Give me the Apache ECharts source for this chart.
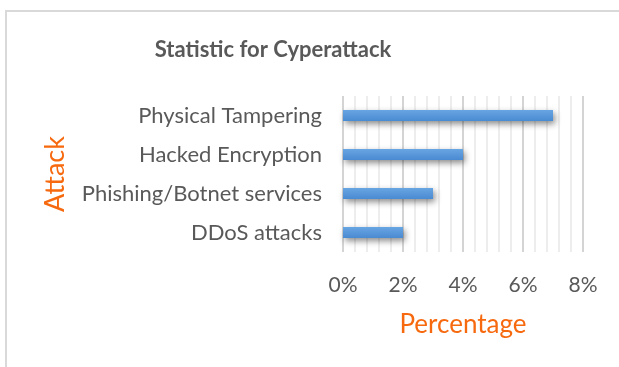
<!DOCTYPE html>
<html>
<head>
<meta charset="utf-8">
<script src="https://cdn.jsdelivr.net/npm/echarts@6/dist/echarts.min.js"></script>
<style>
html,body{margin:0;padding:0;background:#fff;}
#chart{width:619px;height:367px;}
</style>
</head>
<body>
<div id="chart"></div>
<script>
const titleText = 'Statistic for Cyperattack';
const categories = ['DDoS attacks', 'Phishing/Botnet services', 'Hacked Encryption', 'Physical Tampering'];
const values = [2, 3, 4, 7];
const xAxisTitle = 'Percentage';
const yAxisTitle = 'Attack';

const FONT = 'Lato, "Open Sans", sans-serif';
const chart = echarts.init(document.getElementById('chart'), null, {renderer: 'canvas'});
chart.setOption({
  animation: false,
  backgroundColor: '#ffffff',
  graphic: [{
    type: 'rect', silent: true, z: -10,
    shape: {x: 6, y: 11, width: 700, height: 420},
    style: {fill: 'none', stroke: '#d9d9d9', lineWidth: 2}
  }],
  title: {
    text: titleText, left: 268, top: 34, textAlign: 'center',
    textStyle: {fontFamily: FONT, fontSize: 22, fontWeight: 'bold', color: '#595959'}
  },
  grid: {left: 343, right: 36, top: 96, bottom: 115, containLabel: false},
  xAxis: {
    type: 'value', min: 0, max: 8, interval: 2,
    name: xAxisTitle, nameLocation: 'middle', nameGap: 60,
    nameTextStyle: {fontFamily: FONT, fontSize: 26, color: '#f7690f'},
    axisLine: {show: false}, axisTick: {show: false},
    axisLabel: {formatter: '{value}%', margin: 23, fontFamily: FONT, fontSize: 21, color: '#595959'},
    splitLine: {show: true, lineStyle: {color: '#d4d4d4', width: 2}},
    minorTick: {show: false, splitNumber: 5},
    minorSplitLine: {show: true, lineStyle: {color: '#ededed', width: 2}}
  },
  yAxis: {
    type: 'category', data: categories,
    name: yAxisTitle, nameLocation: 'middle', nameGap: 274, nameRotate: 90,
    nameTextStyle: {fontFamily: FONT, fontSize: 27, color: '#f7690f'},
    axisLine: {show: false}, axisTick: {show: false},
    axisLabel: {margin: 21, fontFamily: FONT, fontSize: 22, color: '#595959'}
  },
  series: [{
    type: 'bar', data: values, barWidth: 11,
    itemStyle: {
      color: new echarts.graphic.LinearGradient(0, 0, 0, 1, [
        {offset: 0, color: '#68a5e3'}, {offset: 1, color: '#4a8ad1'}
      ]),
      shadowColor: 'rgba(0,0,0,0.45)', shadowBlur: 6, shadowOffsetX: 2, shadowOffsetY: 3
    }
  }]
});
</script>
</body>
</html>
